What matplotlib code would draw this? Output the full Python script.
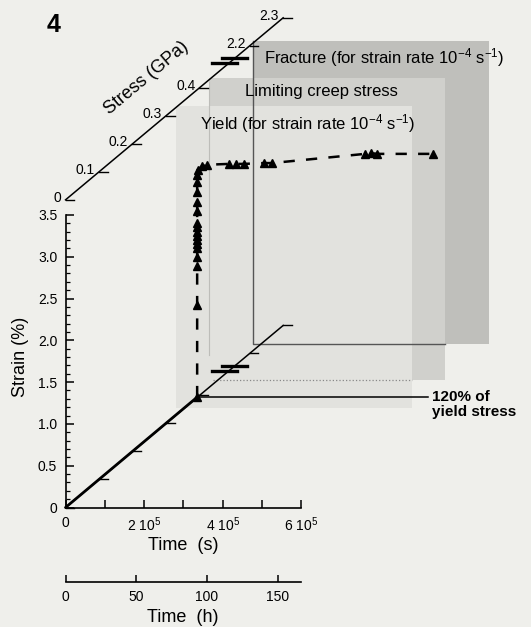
import matplotlib
matplotlib.use('Agg')
import matplotlib.pyplot as plt
from matplotlib.patches import Rectangle
import numpy as np

plt.rcParams['font.family'] = ['Liberation Sans', 'DejaVu Sans']
plt.rcParams['mathtext.fontset'] = 'custom'
plt.rcParams['mathtext.rm'] = 'Liberation Sans'
plt.rcParams['mathtext.default'] = 'regular'

# loading ramp up to 120% of yield stress (time in s, strain in %)
load_time = [0, 3.35e5]
load_strain = [0, 1.32]

# creep points
creep_time = [3.35e5, 3.35e5, 3.35e5, 3.35e5, 3.35e5, 3.35e5, 3.35e5, 3.35e5,
              3.35e5, 3.35e5, 3.35e5, 3.35e5, 3.35e5, 3.35e5, 3.35e5, 3.34e5,
              3.36e5, 3.47e5, 3.60e5, 4.16e5, 4.34e5, 4.54e5, 5.05e5, 5.25e5,
              7.62e5, 7.77e5, 7.93e5, 9.35e5]
creep_strain = [1.32, 2.42, 2.89, 3.00, 3.10, 3.15, 3.20, 3.25,
                3.30, 3.35, 3.40, 3.55, 3.66, 3.77, 3.89, 3.98,
                4.04, 4.08, 4.10, 4.11, 4.11, 4.11, 4.12, 4.12,
                4.23, 4.24, 4.23, 4.23]

# strain / time axes
strain_ticks = [0, 0.5, 1.0, 1.5, 2.0, 2.5, 3.0, 3.5]
strain_labels = ['0', '0.5', '1.0', '1.5', '2.0', '2.5', '3.0', '3.5']
time_ticks = [0, 1e5, 2e5, 3e5, 4e5, 5e5, 6e5]
time_labels = ['0', '', '2 10$^5$', '', '4 10$^5$', '', '6 10$^5$']
hour_ticks = [0, 50, 100, 150]

# stress axis, broken between 0.4 and 2.2 GPa
stress_ticks = [0, 0.1, 0.2, 0.3, 0.4, 2.2, 2.3]
stress_labels = ['0', '0.1', '0.2', '0.3', '0.4', '2.2', '2.3']

# stress planes, back to front
plane_stress = [2.21, 0.43, 0.33]
plane_colors = ['#bfbfbb', '#d0d0cc', '#e2e2de']
plane_time = [0, 6e5]
plane_strain = [0.08, 3.7]

BG = '#efefeb'
STEP_T = 0.852e5   # shift along time per 0.1 GPa
STEP_E = 0.335     # shift along strain per 0.1 GPa
TOP_E = 3.68       # strain level where the upper stress axis starts


def stress_step(s):
    return s / 0.1 if s < 1 else 5.5 + (s - 2.2) / 0.1


def along(u, e0=0.0):
    return u * STEP_T, e0 + u * STEP_E


def stress_axis(e0, labels):
    t1, e1 = along(stress_step(stress_ticks[-1]), e0)
    ax.plot([0, t1], [e0, e1], color='k', lw=1.1, zorder=3)
    for s, lab in zip(stress_ticks, stress_labels):
        t, e = along(stress_step(s), e0)
        ax.plot([t, t + 0.22e5], [e, e], color='k', lw=1.0, zorder=3)
        if labels:
            ax.annotate(lab, (t, e), xytext=(-3, 1), textcoords='offset points',
                        ha='right', va='center', fontsize=10)
    for u, dx in [(4.87, -0.1e5), (5.05, 0.0)]:
        t, e = along(u, e0)
        ax.plot([t - 0.31e5 + dx, t + 0.31e5 + dx], [e, e], color='k', lw=2.4,
                zorder=3)


fig = plt.figure(figsize=(5.31, 6.27), dpi=100, facecolor=BG)
ax = fig.add_axes([0, 0, 1, 1], facecolor=BG)
ax.set_xlim(-1.667e5, 11.845e5)
ax.set_ylim(-1.4294, 6.0706)

# stress planes
w = plane_time[1] - plane_time[0]
h = plane_strain[1] - plane_strain[0]
corners = []
for s, c in zip(plane_stress, plane_colors):
    t0, e0 = along(stress_step(s), plane_strain[0])
    corners.append((t0, e0))
    ax.add_patch(Rectangle((t0, e0), w, h, facecolor=c, edgecolor='none', zorder=1))

(ft, fe), (lt, le), (yt, ye) = corners
ax.plot([ft, ft, lt + w], [fe + h, fe, fe], color='#555555', lw=1.0, zorder=2)
ax.plot([lt + 0.1e5, yt + w], [le, le], color='#888888', lw=0.9, ls=':', zorder=2)
ax.plot([lt, lt], [le + h - 0.05, le + 0.3], color='#bdbdb9', lw=0.8, zorder=2)

# stress axes
stress_axis(TOP_E, True)
stress_axis(0.0, False)

# data
ax.plot(load_time, load_strain, color='k', lw=2.0, zorder=4, solid_capstyle='round')
ax.plot(creep_time, creep_strain, color='k', lw=1.8, dashes=(4.5, 4.5), zorder=4,
        marker='^', ms=6, mec='k', mfc='k')
ax.plot([load_time[-1], 9.22e5], [load_strain[-1], load_strain[-1]], color='k',
        lw=1.1, zorder=3)

# main axes
for side in ['top', 'right']:
    ax.spines[side].set_visible(False)
for side in ['left', 'bottom']:
    ax.spines[side].set_position(('data', 0))
    ax.spines[side].set_linewidth(1.2)
ax.spines['left'].set_bounds(0, 3.5)
ax.spines['bottom'].set_bounds(0, 6e5)
ax.set_xticks(time_ticks)
ax.set_xticklabels(time_labels)
ax.set_yticks(strain_ticks)
ax.set_yticklabels(strain_labels)
minor = [round(v, 1) for v in np.arange(0, 3.51, 0.1)]
ax.set_yticks([v for v in minor if v not in strain_ticks], minor=True)
ax.tick_params(which='major', direction='in', length=6, width=1.1, labelsize=10, pad=6)
ax.tick_params(which='minor', direction='in', length=3, width=0.9)

sec = ax.secondary_xaxis(-0.889, functions=(lambda x: x / 3600, lambda hr: hr * 3600),
                         transform=ax.transData)
sec.set_xticks(hour_ticks)
sec.spines['bottom'].set_bounds(0, 6e5 / 3600)
sec.spines['bottom'].set_linewidth(1.2)
sec.tick_params(direction='in', length=5, width=1.1, labelsize=10, pad=6)

# labels
fig.text(0.100, 0.960, '4', fontsize=18, fontweight='bold', ha='center', va='center')
fig.text(0.275, 0.876, 'Stress (GPa)', fontsize=13, rotation=40, ha='center', va='center')
fig.text(0.038, 0.431, 'Strain (%)', fontsize=13, rotation=90, ha='center', va='center')
fig.text(0.345, 0.130, 'Time  (s)', fontsize=13, ha='center', va='center')
fig.text(0.345, 0.015, 'Time  (h)', fontsize=13, ha='center', va='center')
fig.text(0.497, 0.908, 'Fracture (for strain rate 10$^{-4}$ s$^{-1}$)', fontsize=12,
         ha='left', va='center')
fig.text(0.462, 0.854, 'Limiting creep stress', fontsize=12, ha='left', va='center')
fig.text(0.377, 0.803, 'Yield (for strain rate 10$^{-4}$ s$^{-1}$)', fontsize=12,
         ha='left', va='center')
fig.text(0.8136, 0.367, '120% of', fontsize=11, fontweight='bold', ha='left', va='center')
fig.text(0.8136, 0.343, 'yield stress', fontsize=11, fontweight='bold', ha='left',
         va='center')

fig.savefig('out.png', dpi=100, facecolor=BG)
